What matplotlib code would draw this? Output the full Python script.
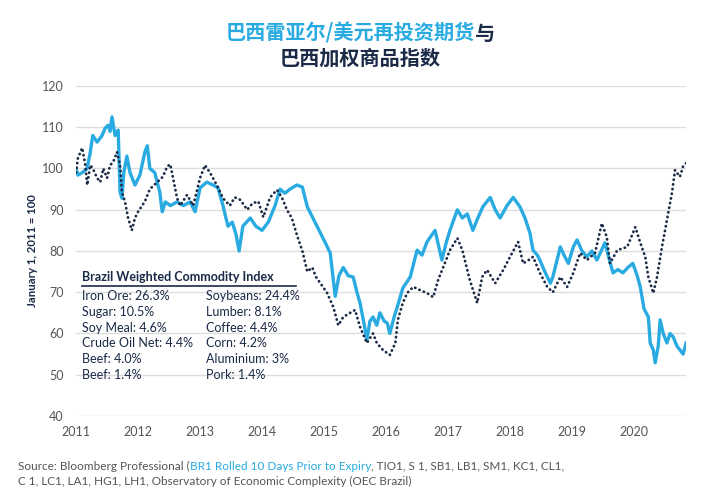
import matplotlib
matplotlib.use('Agg')
import matplotlib.pyplot as plt

plt.rcParams['font.family'] = ['Lato', 'Noto Sans CJK SC', 'DejaVu Sans']

blue = '#29abe2'
navy = '#1b2a47'
grey = '#555555'
gridc = '#dddddd'

# BRL/USD rolled futures, Jan 1 2011 = 100
brl_years = [2011.00, 2011.03, 2011.10, 2011.18, 2011.23, 2011.27, 2011.34, 2011.42, 2011.47, 2011.52,
             2011.55, 2011.58, 2011.63, 2011.68, 2011.71, 2011.74, 2011.77, 2011.82, 2011.87, 2011.95,
             2012.03, 2012.11, 2012.15, 2012.19, 2012.27, 2012.35, 2012.39, 2012.44, 2012.52, 2012.63,
             2012.73, 2012.84, 2012.92, 2013.00, 2013.11, 2013.21, 2013.29, 2013.37, 2013.45, 2013.52,
             2013.58, 2013.63, 2013.69, 2013.81, 2013.90, 2014.00, 2014.10, 2014.21, 2014.29, 2014.37,
             2014.45, 2014.56, 2014.65, 2014.73, 2014.82, 2014.94, 2015.02, 2015.10, 2015.18, 2015.24,
             2015.31, 2015.39, 2015.47, 2015.53, 2015.58, 2015.65, 2015.69, 2015.74, 2015.79, 2015.85,
             2015.90, 2015.97, 2016.02, 2016.06, 2016.13, 2016.18, 2016.27, 2016.39, 2016.50, 2016.58,
             2016.66, 2016.79, 2016.90, 2016.97, 2017.03, 2017.15, 2017.23, 2017.31, 2017.40, 2017.48,
             2017.56, 2017.68, 2017.76, 2017.84, 2017.95, 2018.05, 2018.16, 2018.24, 2018.32, 2018.37,
             2018.44, 2018.48, 2018.56, 2018.65, 2018.69, 2018.76, 2018.81, 2018.87, 2018.94, 2019.02,
             2019.08, 2019.16, 2019.24, 2019.32, 2019.40, 2019.47, 2019.53, 2019.60, 2019.66, 2019.74,
             2019.82, 2019.90, 2019.98, 2020.05, 2020.10, 2020.16, 2020.23, 2020.26, 2020.31, 2020.34,
             2020.39, 2020.42, 2020.47, 2020.53, 2020.58, 2020.63, 2020.69, 2020.74, 2020.79, 2020.84]
brl_values = [100, 98.4, 99, 100, 104, 108, 106.4, 108, 109.8, 110.5,
              109, 112.5, 108, 109.3, 94.3, 92.8, 99, 103, 99, 96,
              98.4, 104, 105.5, 100, 99, 94.3, 89.5, 91.9, 91, 91.9,
              91, 91.9, 89.5, 95.3, 96.7, 96, 95.3, 91, 86, 87,
              84, 80, 86, 88, 86, 85, 87, 91, 95, 94,
              95, 96, 95.5, 90.7, 88, 84.4, 82, 79.5, 69, 74,
              76, 74, 73.7, 70, 67.4, 62, 58.4, 63, 64, 62,
              65, 63, 62.5, 60, 64, 66.4, 71, 73.7, 80.2, 79,
              82.2, 85, 77.8, 82, 85, 90, 88, 89, 85, 88,
              90.7, 93, 90, 88, 91, 93, 90.7, 88, 84.4, 80.2,
              79, 77.8, 75, 72.2, 73.7, 78, 81, 79, 77, 81,
              82.7, 80, 78.6, 80, 77.8, 80, 82, 78, 74.7, 75.5,
              74.7, 76, 77, 74, 71.3, 66, 64, 57.7, 56, 52.9,
              57, 63.3, 60, 57.7, 60, 59.2, 57, 56, 55, 57.7]

# Brazil weighted commodity index, Jan 1 2011 = 100
bci_years = [2011.00, 2011.03, 2011.10, 2011.15, 2011.18, 2011.23, 2011.27, 2011.34, 2011.39, 2011.44,
             2011.50, 2011.55, 2011.60, 2011.66, 2011.71, 2011.74, 2011.79, 2011.84, 2011.90, 2011.95,
             2012.00, 2012.11, 2012.19, 2012.31, 2012.40, 2012.47, 2012.52, 2012.63, 2012.68, 2012.79,
             2012.89, 2013.00, 2013.08, 2013.16, 2013.27, 2013.37, 2013.48, 2013.56, 2013.65, 2013.76,
             2013.85, 2013.94, 2014.02, 2014.13, 2014.24, 2014.32, 2014.40, 2014.48, 2014.56, 2014.65,
             2014.73, 2014.81, 2014.87, 2014.94, 2015.05, 2015.15, 2015.23, 2015.31, 2015.42, 2015.50,
             2015.58, 2015.69, 2015.79, 2015.85, 2015.95, 2016.06, 2016.15, 2016.19, 2016.27, 2016.34,
             2016.44, 2016.55, 2016.66, 2016.76, 2016.84, 2016.92, 2017.03, 2017.15, 2017.23, 2017.31,
             2017.35, 2017.47, 2017.55, 2017.63, 2017.76, 2017.89, 2018.00, 2018.13, 2018.21, 2018.32,
             2018.37, 2018.48, 2018.60, 2018.69, 2018.81, 2018.92, 2019.02, 2019.13, 2019.24, 2019.37,
             2019.48, 2019.56, 2019.61, 2019.73, 2019.89, 2020.02, 2020.10, 2020.18, 2020.23, 2020.31,
             2020.37, 2020.45, 2020.53, 2020.61, 2020.66, 2020.74, 2020.79, 2020.84]
bci_values = [99, 102.5, 105, 100.8, 96, 100.8, 100, 97.7, 96.7, 100,
              97.7, 100.8, 101.6, 104, 100.8, 94.3, 91.9, 88, 85, 88,
              89.5, 92, 95, 96.7, 98, 100.5, 101, 92.8, 91, 93.6,
              91, 97.7, 100.8, 99, 96, 92.8, 91, 93, 92.4, 90,
              91.6, 92, 88.2, 93, 94.8, 93, 90, 88, 84, 80,
              75, 76, 73.7, 72.2, 69.8, 66.4, 62, 64, 65, 65.7,
              61.6, 57.7, 60, 57.7, 56, 54.8, 57.7, 63.3, 67.4, 69.8,
              71.3, 70.5, 69.8, 68.8, 73, 76, 80.2, 83.1, 80.2, 75.4,
              73, 67.4, 73.7, 75.4, 72.2, 75.4, 78.6, 82.2, 77, 78,
              78.6, 74.7, 71.3, 70, 73.7, 71.3, 74.7, 79.5, 77.8, 79.5,
              86.7, 83.4, 77, 80.2, 81, 85.8, 82, 78.6, 73.7, 69.8,
              73.7, 81, 87.5, 94, 99.6, 98, 100.5, 101.3]

year_ticks = list(range(2011, 2021))
value_ticks = list(range(40, 121, 10))

title_parts_1 = [('巴西雷亚尔/美元再投资期货', blue), ('与', navy)]
title_line_2 = '巴西加权商品指数'
y_label = 'January 1, 2011 = 100'

legend_title = 'Brazil Weighted Commodity Index'
legend_left = ['Iron Ore: 26.3%', 'Sugar: 10.5%', 'Soy Meal: 4.6%',
               'Crude Oil Net: 4.4%', 'Beef: 4.0%', 'Beef: 1.4%']
legend_right = ['Soybeans: 24.4%', 'Lumber: 8.1%', 'Coffee: 4.4%',
                'Corn: 4.2%', 'Aluminium: 3%', 'Pork: 1.4%']

source_1 = [('Source: Bloomberg Professional (', grey),
            ('BR1 Rolled 10 Days Prior to Expiry', blue),
            (', TIO1, S 1, SB1, LB1, SM1, KC1, CL1,', grey)]
source_2 = 'C 1, LC1, LA1, HG1, LH1, Observatory of Economic Complexity (OEC Brazil)'

fig = plt.figure(figsize=(7.2, 5), dpi=100)
ax = fig.add_axes([0.1056, 0.168, 0.8474, 0.66])

ax.plot(brl_years, brl_values, color=blue, lw=2.4, solid_joinstyle='round', zorder=2)
ax.plot(bci_years, bci_values, color=navy, lw=2.0, linestyle=(0, (0.1, 1.6)),
        dash_capstyle='round', zorder=3)

ax.set_xlim(2011, 2020.84)
ax.set_ylim(40, 120)
ax.set_yticks(value_ticks)
ax.set_xticks(year_ticks)
ax.grid(axis='y', color=gridc, lw=1.0, zorder=0)
ax.set_axisbelow(True)
for s in ax.spines.values():
    s.set_visible(False)
ax.tick_params(length=0, labelsize=9, labelcolor=grey)
ax.tick_params(axis='y', pad=9)
ax.tick_params(axis='x', pad=7)

fig.text(32 / 720, 1 - 251 / 500, y_label, rotation=90, ha='center', va='center',
         color=navy, fontsize=8.2, fontweight='bold')

r = fig.canvas.get_renderer()


def part_widths(parts, **kw):
    ws = []
    for s, c in parts:
        t = fig.text(0, 0, s, **kw)
        ws.append(t.get_window_extent(renderer=r).width / fig.bbox.width)
        t.remove()
    return ws


def draw_parts(x, y, parts, **kw):
    ws = part_widths(parts, **kw)
    for (s, c), w in zip(parts, ws):
        fig.text(x, y, s, color=c, **kw)
        x += w


tkw = dict(fontsize=14.5, fontweight='bold', family=['Noto Sans CJK SC', 'DejaVu Sans'], va='center')
total = sum(part_widths(title_parts_1, **tkw))
draw_parts(0.5 - total / 2, 1 - 33 / 500, title_parts_1, **tkw)
fig.text(0.5, 1 - 58 / 500, title_line_2, ha='center', color=navy, **tkw)

# commodity weights box
fig.text(82 / 720, 1 - 277 / 500, legend_title, color=navy, fontsize=9, fontweight='bold', va='center')
fig.add_artist(plt.Line2D([82 / 720, 296 / 720], [1 - 286 / 500] * 2, color=navy, lw=1.2))
for i, (a, b) in enumerate(zip(legend_left, legend_right)):
    yy = 1 - (296 + i * 15.8) / 500
    fig.text(82 / 720, yy, a, color=navy, fontsize=9, va='center')
    fig.text(206 / 720, yy, b, color=navy, fontsize=9, va='center')

skw = dict(fontsize=8.5, va='center')
draw_parts(18 / 720, 1 - 466 / 500, source_1, **skw)
fig.text(18 / 720, 1 - 481 / 500, source_2, color=grey, **skw)

fig.savefig('out.png', dpi=100)
